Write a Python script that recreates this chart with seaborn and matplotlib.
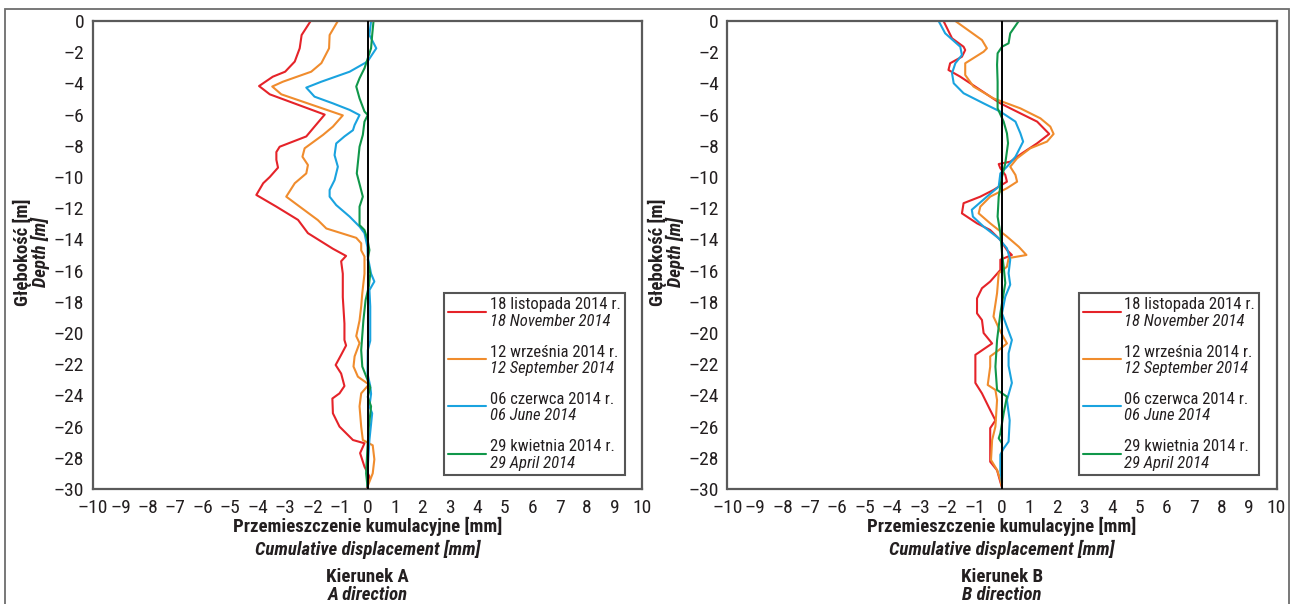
import matplotlib
matplotlib.use("Agg")
import matplotlib.pyplot as plt
from matplotlib import font_manager as fm
from matplotlib.patches import Rectangle
from matplotlib.lines import Line2D
from matplotlib.ticker import FuncFormatter
from matplotlib.offsetbox import AnchoredOffsetbox, VPacker, HPacker, TextArea, DrawingArea
import seaborn as sns
import pandas as pd

# ---------------- data ----------------
series_pl = ["18 listopada 2014 r.", "12 września 2014 r.", "06 czerwca 2014 r.", "29 kwietnia 2014 r."]
series_en = ["18 November 2014", "12 September 2014", "06 June 2014", "29 April 2014"]
colors = ["#e52329", "#f08c2d", "#1aa3df", "#10974a"]

x_ticks = list(range(-10, 11))
y_ticks = list(range(-30, 1, 2))

# Direction A
A_nov_depth = [0, -0.9, -1.75, -2.6, -3.25, -3.57, -4.17, -4.7, -6.0, -6.77, -7.4, -8.06, -8.4, -8.9, -9.4,
               -10.0, -10.4, -11.15, -11.9, -12.75, -13.6, -14.6, -15.06, -15.4, -16.2, -17.7, -19.4, -20.45,
               -20.8, -21.4, -22.05, -22.6, -23.4, -23.87, -24.2, -25.15, -26.0, -26.86, -27.07, -27.7, -28.57,
               -29.2, -29.9]
A_nov_disp = [-2.07, -2.4, -2.47, -2.65, -3.0, -3.45, -3.95, -3.56, -1.56, -1.93, -2.23, -3.2, -3.32, -3.32, -3.26,
              -3.56, -3.8, -4.05, -3.32, -2.53, -2.17, -1.26, -0.78, -0.96, -0.9, -0.9, -0.84, -0.84,
              -0.78, -0.96, -1.16, -0.96, -0.84, -1.02, -1.28, -1.26, -1.02, -0.53, -0.11, -0.27, -0.11,
              0.07, -0.02]

A_sep_depth = [0, -0.9, -1.75, -2.7, -3.25, -3.89, -4.2, -4.7, -6.05, -6.77, -7.3, -8.16, -8.7, -9.23, -9.77,
               -10.4, -11.26, -11.9, -12.76, -13.3, -13.9, -14.25, -14.7, -15.1, -16.2, -17.45, -18.3, -19.2,
               -20.2, -20.65, -21.5, -22.15, -22.8, -23.3, -23.87, -24.7, -26.0, -26.86, -27.2, -28.1, -29.0, -29.85]
A_sep_disp = [-1.08, -1.38, -1.4, -1.68, -2.05, -3.08, -3.47, -3.14, -0.9, -1.26, -1.62, -2.29, -2.37, -2.17, -2.23,
              -2.65, -2.96, -2.47, -1.81, -1.5, -0.41, -0.23, -0.23, -0.11, -0.11, -0.19, -0.23, -0.29,
              -0.41, -0.29, -0.47, -0.51, -0.35, 0.05, -0.23, -0.29, -0.23, -0.17, 0.19, 0.25, 0.19, 0.0]

A_jun_depth = [0, -0.9, -1.75, -2.6, -3.25, -3.89, -4.27, -4.85, -5.28, -5.7, -6.03, -6.67, -7.0, -7.4, -7.85,
               -8.6, -9.34, -10.2, -10.83, -11.26, -11.8, -12.54, -13.18, -13.6, -14.5, -15.1, -16.2, -16.7,
               -17.25, -18.3, -20.5, -21.1, -22.6, -23.4, -23.9, -24.7, -25.15, -26.86, -28.6, -29.85]
A_jun_disp = [0.13, 0.07, 0.32, 0.0, -0.65, -1.68, -2.23, -1.93, -1.26, -0.65, -0.29, -0.47, -0.53, -0.84, -1.14,
              -1.2, -1.08, -1.2, -1.38, -1.38, -1.14, -0.65, -0.29, -0.11, 0.0, 0.01, 0.13, 0.25,
              0.07, 0.1, 0.1, 0.01, 0.0, 0.1, 0.13, 0.07, 0.17, 0.07, 0.01, 0.0]

A_apr_depth = [0, -0.9, -1.75, -3.03, -3.67, -4.2, -4.96, -5.8, -6.03, -6.45, -7.3, -8.06, -9.77, -11.26, -11.9,
               -13.08, -13.4, -14.0, -14.68, -15.3, -16.2, -17.0, -17.9, -19.2, -21.1, -22.15, -23.0, -23.5,
               -24.1, -24.7, -26.0, -27.3, -29.0, -29.85]
A_apr_disp = [0.22, 0.17, 0.13, -0.11, -0.29, -0.41, -0.29, -0.11, 0.01, -0.11, -0.17, -0.29, -0.39, -0.17, -0.29,
              -0.29, -0.11, 0.0, 0.07, 0.01, 0.1, 0.05, -0.07, -0.15, -0.23, -0.19, 0.0, 0.1,
              0.01, 0.13, 0.05, 0.0, -0.05, 0.0]

# Direction B
B_nov_depth = [0, -1.11, -1.65, -1.86, -2.29, -2.71, -3.14, -3.57, -4.42, -5.28, -5.92, -6.45, -7.24, -7.84,
               -8.48, -9.02, -9.17, -9.44, -9.87, -10.3, -10.83, -11.26, -11.68, -12.33, -12.97, -13.4, -14.04,
               -14.68, -15.0, -15.3, -15.96, -16.7, -17.13, -17.78, -18.74, -19.17, -20.0, -20.67, -21.4, -23.2,
               -23.87, -24.94, -25.6, -26.1, -28.25, -28.8, -29.55, -29.9]
B_nov_disp = [-2.13, -1.82, -1.4, -1.34, -1.46, -1.89, -1.95, -1.52, -0.79, -0.06, 0.67, 1.28, 1.72, 1.28,
              0.73, 0.3, -0.12, -0.06, 0.12, 0.18, -0.31, -0.79, -1.4, -1.46, -0.91, -0.43, -0.06,
              0.18, 0.36, -0.06, -0.06, -0.43, -0.73, -0.91, -0.91, -0.73, -0.67, -0.36, -0.97, -0.97,
              -0.73, -0.43, -0.24, -0.43, -0.43, -0.18, -0.06, 0.0]

B_sep_depth = [0, -1.22, -1.75, -1.97, -2.71, -3.46, -4.2, -4.96, -5.6, -6.24, -6.77, -7.24, -7.73, -8.16,
               -8.8, -9.34, -9.87, -10.3, -10.72, -11.26, -11.9, -12.33, -12.97, -13.82, -14.47, -15.0, -15.2,
               -15.75, -16.17, -17.45, -18.95, -19.9, -20.67, -21.1, -21.5, -22.16, -23.33, -23.65, -24.3,
               -26.0, -26.86, -28.14, -28.78, -29.4, -29.9]
B_sep_disp = [-1.7, -0.73, -0.55, -0.67, -1.34, -1.34, -1.04, -0.31, 0.67, 1.4, 1.76, 1.88, 1.64, 1.03,
              0.55, 0.3, 0.49, 0.55, 0.18, -0.43, -0.79, -0.85, -0.43, 0.18, 0.61, 0.89, 0.24,
              0.18, -0.12, -0.18, -0.31, -0.06, 0.18, -0.12, -0.43, -0.43, -0.52, -0.24, -0.18,
              -0.24, -0.36, -0.4, -0.18, -0.06, 0.0]

B_jun_depth = [0, -0.79, -1.65, -2.18, -2.71, -3.35, -3.99, -4.63, -5.28, -5.81, -6.45, -7.2, -7.73, -8.7,
               -9.34, -9.77, -10.62, -11.26, -12.1, -12.54, -13.18, -13.93, -14.57, -15.3, -16.17, -16.9,
               -17.67, -18.74, -19.6, -20.45, -21.3, -22.1, -23.2, -24.3, -25.6, -26.96, -27.4, -27.8,
               -28.8, -29.6]
B_jun_disp = [-2.31, -2.07, -1.52, -1.46, -1.7, -1.82, -1.76, -1.4, -0.67, -0.06, 0.49, 0.67, 0.77, 0.49,
              0.18, -0.06, -0.12, -0.55, -1.1, -1.06, -0.67, -0.12, 0.18, 0.3, 0.24, 0.3,
              0.12, 0.0, 0.18, 0.36, 0.24, 0.24, 0.36, 0.18, 0.28, 0.24, 0.06, -0.06,
              -0.06, 0.0]

B_apr_depth = [0, -0.79, -1.43, -1.65, -2.07, -2.8, -3.89, -5.6, -6.45, -7.2, -7.83, -9.12, -9.98, -11.26,
               -12.54, -13.6, -14.9, -15.75, -16.8, -18.74, -20.45, -22.16, -23.65, -24.08, -25.15, -26.43,
               -26.75, -27.07, -29.6]
B_apr_disp = [0.61, 0.3, 0.24, 0.0, -0.16, -0.18, -0.16, -0.16, 0.06, 0.18, 0.22, 0.12, 0.0, -0.12,
              -0.16, -0.06, 0.0, 0.06, 0.12, -0.06, -0.18, -0.24, -0.18, 0.18, 0.06, -0.06,
              -0.12, 0.0, 0.0]

# ---------------- style ----------------
sns.set_style("white")
available = {f.name for f in fm.fontManager.ttflist}
FONT = "DejaVu Sans"
for cand in ["Roboto Condensed", "Archivo Narrow", "Fira Sans Condensed", "IBM Plex Sans Condensed",
             "Liberation Sans Narrow", "Roboto"]:
    if cand in available:
        FONT = cand
        break
plt.rcParams["font.family"] = [FONT, "DejaVu Sans"]

TXT = "#231f20"
SPINE = "#5a5a5a"


def dash_fmt(v, pos):
    v = int(round(v))
    return ("\u2013" + str(-v)) if v < 0 else str(v)


def make_df(depths, disps):
    frames = []
    for lab, d, x in zip(series_pl, depths, disps):
        frames.append(pd.DataFrame({"depth": d, "disp": x, "series": lab}))
    return pd.concat(frames, ignore_index=True)


dfA = make_df([A_nov_depth, A_sep_depth, A_jun_depth, A_apr_depth],
              [A_nov_disp, A_sep_disp, A_jun_disp, A_apr_disp])
dfB = make_df([B_nov_depth, B_sep_depth, B_jun_depth, B_apr_depth],
              [B_nov_disp, B_sep_disp, B_jun_disp, B_apr_disp])
palette = dict(zip(series_pl, colors))

W, H = 1292, 604
fig = plt.figure(figsize=(W / 100, H / 100), dpi=100)

panels = [
    (dfA, 93, "Kierunek A", "A direction", 22, 40),
    (dfB, 727.5, "Kierunek B", "B direction", 657, 675),
]
ax_top, ax_bot = 21, 489
LEG_FS = 12
LAB_FS = 13.5


def build_legend(ax):
    rows = []
    for col, pl, en in zip(colors, series_pl, series_en):
        da = DrawingArea(28, 8, 0, 0)
        da.add_artist(Line2D([0, 27.5], [5, 5], color=col, lw=1.5))
        t1 = TextArea(pl, textprops=dict(fontsize=LEG_FS, color=TXT))
        t2 = TextArea(en, textprops=dict(fontsize=LEG_FS, color=TXT, fontstyle="italic"))
        txt = VPacker(children=[t1, t2], sep=1.0, align="left", pad=0)
        rows.append(HPacker(children=[da, txt], align="center", sep=2, pad=0))
    box = VPacker(children=rows, sep=11.5, align="left", pad=0)
    anch = AnchoredOffsetbox(loc="lower right", child=box, pad=0.3, borderpad=0, frameon=True,
                             bbox_to_anchor=(0.969, 0.03), bbox_transform=ax.transAxes)
    anch.patch.set_boxstyle("square", pad=0)
    anch.patch.set_edgecolor("#555555")
    anch.patch.set_linewidth(1.5)
    anch.patch.set_facecolor("white")
    anch.set_zorder(10)
    ax.add_artist(anch)


for df, left_px, t_pl, t_en, yl1, yl2 in panels:
    ax = fig.add_axes([left_px / W, 1 - ax_bot / H, 549 / W, (ax_bot - ax_top) / H])
    sns.lineplot(data=df, x="disp", y="depth", hue="series", hue_order=series_pl, palette=palette,
                 sort=False, estimator=None, orient="y", linewidth=1.5, ax=ax, legend=False)
    ax.axvline(0, color="black", lw=1.4, zorder=5)
    ax.set_xlim(-10, 10)
    ax.set_ylim(-30, 0)
    ax.set_xticks(x_ticks)
    ax.set_yticks(y_ticks)
    ax.xaxis.set_major_formatter(FuncFormatter(dash_fmt))
    ax.yaxis.set_major_formatter(FuncFormatter(dash_fmt))
    ax.set_xlabel("")
    ax.set_ylabel("")
    for s in ax.spines.values():
        s.set_color(SPINE)
        s.set_linewidth(1.6)
    ax.tick_params(axis="both", direction="inout", length=9.5, width=1.3, color="#333333",
                   labelsize=14, labelcolor=TXT)
    ax.tick_params(axis="x", pad=2.5)
    ax.tick_params(axis="y", pad=1.5)
    build_legend(ax)

    cx = (left_px + 549 / 2) / W
    fig.text(cx, 1 - 526 / H, "Przemieszczenie kumulacyjne [mm]", ha="center", va="center",
             fontsize=LAB_FS, fontweight="bold", color=TXT)
    fig.text(cx, 1 - 549 / H, "Cumulative displacement [mm]", ha="center", va="center",
             fontsize=LAB_FS, fontweight="bold", fontstyle="italic", color=TXT)
    fig.text(cx, 1 - 577 / H, t_pl, ha="center", va="center",
             fontsize=LAB_FS, fontweight="bold", color=TXT)
    fig.text(cx, 1 - 595 / H, t_en, ha="center", va="center",
             fontsize=LAB_FS, fontweight="bold", fontstyle="italic", color=TXT)
    cy = 1 - 252 / H
    fig.text(yl1 / W, cy, "Głębokość [m]", rotation=90, ha="center", va="center",
             fontsize=LAB_FS, fontweight="bold", color=TXT)
    fig.text(yl2 / W, cy, "Depth [m]", rotation=90, ha="center", va="center",
             fontsize=LAB_FS, fontweight="bold", fontstyle="italic", color=TXT)

# outer frame
fig.patches.append(Rectangle((5 / W, -0.05), (1289 - 5) / W, 1.05 - 9 / H,
                             transform=fig.transFigure, fill=False, edgecolor="#6d6d6d",
                             linewidth=1.3, zorder=0))

fig.savefig("out.png", dpi=100)
